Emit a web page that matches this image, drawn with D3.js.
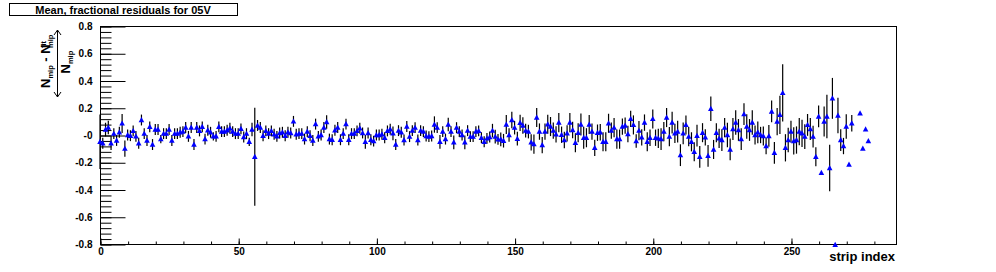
<!DOCTYPE html>
<html>
<head>
<meta charset="utf-8">
<script src="https://cdn.jsdelivr.net/npm/d3@7"></script>
<style>
  body { margin: 0; background: #fff; }
  svg { display: block; font-family: "Liberation Sans", Arial, sans-serif; font-weight: bold; }
</style>
</head>
<body>
<div class="chart"></div>
<script>
var width = 996, height = 272;
var margin = {top: 26, right: 100, bottom: 28, left: 100};

var titleText = "Mean, fractional residuals for 05V";
var xTitle = "strip index";

var xTicks = [0, 50, 100, 150, 200, 250];
var yTicks = [-0.8, -0.6, -0.4, -0.2, 0, 0.2, 0.4, 0.6, 0.8];
var yTickLabels = ["-0.8", "-0.6", "-0.4", "-0.2", "-0", "0.2", "0.4", "0.6", "0.8"];

// mean fractional residual per strip (index = strip), null = no entry
var resid = [
  -0.05,-0.06,0.04,0.055,-0.06,0.01,-0.04,0.02,0.085,-0.10,
  0.0,-0.005,0.03,-0.01,-0.06,0.11,0.01,-0.04,0.06,-0.07,
  0.04,0.04,-0.03,0.01,0.01,0.04,-0.04,0.01,0.01,0.02,
  0.025,0.055,-0.01,0.055,-0.07,0.055,0.03,0.06,-0.03,0.035,
  0.02,-0.01,-0.01,0.06,0.025,0.025,0.035,0.05,0.025,0.01,
  0.01,0.045,-0.015,0.01,-0.05,0.04,-0.16,0.07,0.055,-0.005,
  0.03,0.01,0.03,0.005,-0.01,0.015,0.02,-0.005,0.02,0.015,
  0.1,0.005,0.01,0.01,-0.03,0.025,-0.005,-0.04,0.08,-0.01,
  0.0,0.055,0.095,-0.03,-0.035,0.035,0.055,-0.035,0.01,0.08,
  -0.035,0.01,0.01,0.03,0.05,0.015,-0.05,0.015,-0.035,-0.045,
  0.0,0.0,0.005,-0.02,0.03,0.042,0.012,-0.07,0.032,0.02,
  -0.037,0.062,-0.012,0.032,0.054,-0.037,0.032,0.025,-0.007,-0.012,
  -0.007,0.077,0.054,-0.05,0.025,-0.03,0.077,0.025,-0.054,0.054,
  0.025,0.0,-0.054,0.032,-0.012,-0.012,0.025,0.03,-0.02,-0.05,
  -0.025,-0.015,0.032,-0.012,-0.032,-0.032,-0.042,0.077,0.0,0.11,
  0.054,-0.027,0.089,0.07,0.032,0.025,-0.054,-0.067,0.128,0.025,
  -0.074,0.025,0.079,0.062,0.032,0.005,0.091,0.002,-0.037,0.012,
  0.091,0.037,-0.057,0.017,0.077,-0.02,-0.02,0.077,0.025,-0.094,
  0.017,0.02,-0.05,-0.05,0.086,0.032,0.054,-0.03,-0.03,0.062,
  0.069,0.007,0.118,0.074,-0.044,0.032,-0.017,0.091,-0.05,-0.02,
  0.118,-0.02,-0.025,-0.03,0.025,0.128,-0.012,0.091,0.012,0.025,
  -0.148,0.012,0.074,-0.012,-0.05,-0.123,-0.005,-0.16,0.017,-0.017,
  -0.153,0.193,-0.106,0.017,-0.025,-0.037,0.054,0.0,-0.106,0.044,
  0.091,0.037,-0.03,0.153,0.062,0.037,0.091,0.0,0.02,0.0,
  -0.007,-0.081,-0.007,0.173,-0.131,0.099,0.148,0.309,-0.094,-0.037,
  0.025,-0.044,-0.037,0.025,0.012,-0.012,0.074,0.044,-0.012,-0.16,
  0.136,-0.277,0.099,0.136,-0.242,0.269,-0.805,0.143,-0.037,-0.081,
  0.062,-0.217,0.086,null,null,0.16,-0.099,0.042,-0.044
];

// error on the mean
var residErr = [
  0.2,0.04,0.05,0.05,0.05,0.04,0.04,0.04,0.07,0.06,
  0.04,0.04,0.04,0.04,0.04,0.04,0.04,0.04,0.04,0.04,
  0.04,0.04,0.03,0.04,0.04,0.04,0.04,0.04,0.04,0.04,
  0.04,0.04,0.04,0.04,0.04,0.04,0.04,0.04,0.04,0.04,
  0.04,0.03,0.04,0.04,0.04,0.04,0.04,0.04,0.04,0.04,
  0.04,0.04,0.04,0.04,0.03,0.05,0.36,0.04,0.04,0.04,
  0.04,0.04,0.04,0.04,0.04,0.04,0.04,0.04,0.04,0.04,
  0.04,0.04,0.04,0.04,0.04,0.04,0.04,0.04,0.04,0.04,
  0.04,0.04,0.05,0.04,0.04,0.04,0.04,0.04,0.04,0.04,
  0.04,0.04,0.04,0.04,0.04,0.04,0.05,0.04,0.04,0.04,
  0.04,0.04,0.04,0.04,0.04,0.04,0.05,0.04,0.04,0.04,
  0.04,0.04,0.04,0.04,0.04,0.04,0.04,0.04,0.04,0.04,
  0.04,0.06,0.04,0.05,0.04,0.04,0.05,0.04,0.05,0.04,
  0.04,0.04,0.05,0.04,0.04,0.04,0.04,0.04,0.04,0.04,
  0.04,0.04,0.05,0.05,0.04,0.05,0.05,0.07,0.05,0.06,
  0.05,0.05,0.06,0.06,0.05,0.05,0.06,0.07,0.07,0.06,
  0.06,0.06,0.07,0.07,0.06,0.06,0.07,0.06,0.06,0.06,
  0.07,0.06,0.07,0.07,0.08,0.08,0.07,0.07,0.06,0.06,
  0.06,0.06,0.07,0.07,0.07,0.06,0.07,0.07,0.07,0.06,
  0.06,0.06,0.06,0.07,0.05,0.07,0.06,0.06,0.07,0.06,
  0.07,0.06,0.07,0.08,0.07,0.07,0.07,0.08,0.07,0.08,
  0.08,0.08,0.07,0.07,0.07,0.07,0.08,0.08,0.07,0.06,
  0.08,0.09,0.07,0.07,0.07,0.08,0.07,0.09,0.08,0.08,
  0.09,0.08,0.08,0.08,0.09,0.08,0.09,0.07,0.08,0.06,
  0.07,0.06,0.08,0.08,0.08,0.1,0.14,0.21,0.1,0.09,
  0.08,0.1,0.1,0.1,0.1,0.09,0.08,0.08,0.08,0.07,
  0.08,0,0.11,0.16,0.17,0.15,0,0.13,0.08,0.06,
  0.09,0,0.06,null,null,0,0,0,0
];

var x = d3.scaleLinear().domain([0, 288]).range([margin.left, width - margin.right]);
var y = d3.scaleLinear().domain([-0.8, 0.8]).range([height - margin.bottom, margin.top]);

var svg = d3.select(".chart").append("svg")
    .attr("width", width)
    .attr("height", height);

var pts = [];
resid.forEach(function(v, i) {
  if (v !== null) pts.push({s: i, v: v, e: residErr[i]});
});

// frame
svg.append("rect")
    .attr("x", x(0) + 0.5)
    .attr("y", y(0.8) + 0.5)
    .attr("width", x(288) - x(0))
    .attr("height", y(-0.8) - y(0.8))
    .attr("fill", "none")
    .attr("stroke", "#000");

// y axis, minor then major
svg.append("g")
    .attr("transform", "translate(" + (x(0) + 0.5) + ",0.5)")
    .call(d3.axisLeft(y).tickValues(d3.range(-0.8, 0.801, 0.04)).tickSize(-11).tickFormat(""))
    .call(function(g) { g.select(".domain").remove(); });

svg.append("g")
    .attr("transform", "translate(" + (x(0) + 0.5) + ",0.5)")
    .call(d3.axisLeft(y).tickValues(yTicks).tickSize(-25).tickPadding(8)
      .tickFormat(function(d, i) { return yTickLabels[i]; }))
    .call(function(g) {
      g.select(".domain").remove();
      g.selectAll("text").attr("font-size", 10).attr("font-family", null).attr("font-weight", "bold").attr("fill", "#000");
    });

// x axis
svg.append("g")
    .attr("transform", "translate(0.5," + (y(-0.8) + 0.5) + ")")
    .call(d3.axisBottom(x).tickValues(d3.range(0, 281, 10)).tickSize(-3).tickFormat(""))
    .call(function(g) { g.select(".domain").remove(); });

svg.append("g")
    .attr("transform", "translate(0.5," + (y(-0.8) + 0.5) + ")")
    .call(d3.axisBottom(x).tickValues(xTicks).tickSize(-6).tickPadding(3))
    .call(function(g) {
      g.select(".domain").remove();
      g.selectAll("text").attr("font-size", 10).attr("font-family", null).attr("font-weight", "bold").attr("fill", "#000");
    });

// error bars
svg.append("g").selectAll("line")
    .data(pts.filter(function(d) { return d.e > 0; }))
    .enter().append("line")
    .attr("x1", function(d) { return x(d.s); })
    .attr("x2", function(d) { return x(d.s); })
    .attr("y1", function(d) { return y(d.v - d.e); })
    .attr("y2", function(d) { return y(d.v + d.e); })
    .attr("stroke", "#000")
    .attr("stroke-width", 1.2);

// markers (filled triangles)
svg.append("g").selectAll("path")
    .data(pts)
    .enter().append("path")
    .attr("d", function(d) {
      var cx = x(d.s), cy = y(d.v);
      return "M" + cx + "," + (cy - 3) + "L" + (cx + 2.8) + "," + (cy + 2.2) + "L" + (cx - 2.8) + "," + (cy + 2.2) + "Z";
    })
    .attr("fill", "#0000ff");

// title box
svg.append("rect")
    .attr("x", 9.5).attr("y", 3.5)
    .attr("width", 228).attr("height", 12)
    .attr("fill", "#fff").attr("stroke", "#000");
svg.append("text")
    .attr("x", 123).attr("y", 13.5)
    .attr("text-anchor", "middle")
    .attr("font-size", 11)
    .text(titleText);

// x title
svg.append("text")
    .attr("x", x(288) - 1).attr("y", 261)
    .attr("text-anchor", "end")
    .attr("font-size", 13)
    .text(xTitle);

// y title: < (N_mip - N^fit_mip) / N_mip >
var yt = svg.append("g").attr("transform", "translate(57.5,63.5) rotate(-90)");
yt.append("path")
    .attr("d", "M-33.5,0L33.5,0M-28.5,-3.5L-33.5,0L-28.5,3.5M28.5,-3.5L33.5,0L28.5,3.5")
    .attr("fill", "none").attr("stroke", "#000").attr("stroke-width", 1);
var num = yt.append("text").attr("x", -24.5).attr("y", -7.5).attr("font-size", 13);
num.append("tspan").text("N");
num.append("tspan").attr("font-size", 7.5).attr("dy", 3).text("mip");
num.append("tspan").attr("dy", -3).text(" - N");
yt.append("text").attr("x", 15.5).attr("y", -12).attr("font-size", 7.5).text("fit");
yt.append("text").attr("x", 15.5).attr("y", -4.5).attr("font-size", 7.5).text("mip");
var den = yt.append("text").attr("x", -10).attr("y", 12.5).attr("font-size", 13);
den.append("tspan").text("N");
den.append("tspan").attr("font-size", 7.5).attr("dy", 3).text("mip");
</script>
</body>
</html>
